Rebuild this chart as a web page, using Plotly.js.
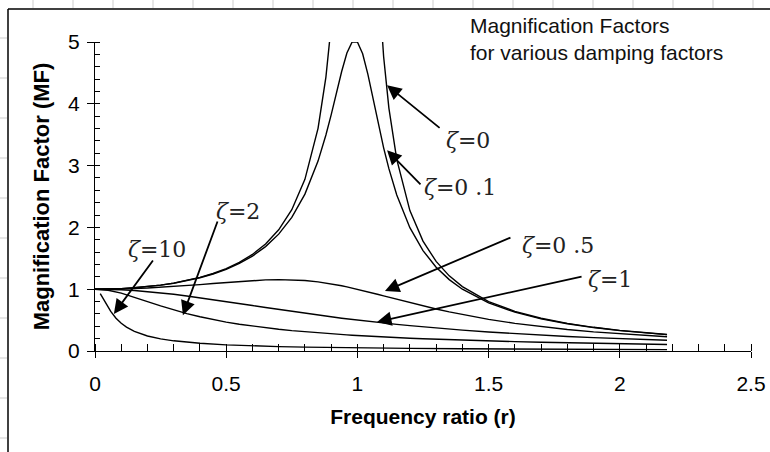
<!DOCTYPE html>
<html><head><meta charset="utf-8">
<script src="https://cdn.plot.ly/plotly-3.0.1.min.js"></script>
<style>html,body{margin:0;padding:0;background:#fff}#chart{width:770px;height:452px}</style>
</head><body><div id="chart"></div>
<script>
// Frequency ratio samples (shared by the first five curves)
const r = [0, 0.05, 0.1, 0.15, 0.2, 0.25, 0.3, 0.35, 0.4, 0.45, 0.5, 0.55, 0.6, 0.65, 0.7, 0.75, 0.8, 0.85, 0.88, 0.9, 0.92, 0.94, 0.96, 0.98, 1.0, 1.02, 1.04, 1.06, 1.08, 1.1, 1.12, 1.15, 1.2, 1.25, 1.3, 1.35, 1.4, 1.5, 1.6, 1.7, 1.8, 1.9, 2.0, 2.1, 2.18];
// Magnification factor
const mfZeta0 = [1, 1.0025, 1.0101, 1.023, 1.0417, 1.0667, 1.0989, 1.1396, 1.1905, 1.2539, 1.3333, 1.4337, 1.5625, 1.7316, 1.9608, 2.2857, 2.7778, 3.6036, 4.4326, 5.2632, 6.5104, 8.591, 12.755, 25.25, null, 24.75, 12.255, 8.091, 6.0096, 4.7619, 3.9308, 3.1008, 2.2727, 1.7778, 1.4493, 1.2158, 1.0417, 0.8, 0.641, 0.5291, 0.4464, 0.3831, 0.3333, 0.2933, 0.2665];
const mfZeta01 = [1, 1.0025, 1.0099, 1.0225, 1.0408, 1.0652, 1.0965, 1.136, 1.1851, 1.246, 1.3216, 1.4162, 1.5357, 1.6893, 1.8908, 2.1622, 2.5384, 3.0729, 3.4949, 3.8208, 4.1721, 4.5225, 4.8218, 5.001, 5.0, 4.8086, 4.4756, 4.075, 3.6675, 3.288, 2.9502, 2.5245, 1.9952, 1.6246, 1.3562, 1.1552, 1.0, 0.7779, 0.628, 0.5207, 0.4408, 0.3791, 0.3304, 0.2911, 0.2647];
const mfZeta05 = [1, 1.0013, 1.005, 1.0112, 1.0198, 1.0307, 1.0437, 1.0585, 1.0748, 1.0921, 1.1094, 1.1258, 1.1399, 1.1501, 1.1546, 1.1517, 1.1399, 1.1184, 1.1008, 1.0872, 1.0721, 1.0558, 1.0382, 1.0196, 1.0, 0.9796, 0.9586, 0.9371, 0.9151, 0.893, 0.8707, 0.8373, 0.7824, 0.7295, 0.6795, 0.6326, 0.5891, 0.5122, 0.4475, 0.3934, 0.348, 0.3098, 0.2774, 0.2497, 0.2304];
const mfZeta1 = [1, 0.9975, 0.9901, 0.978, 0.9615, 0.9412, 0.9174, 0.8909, 0.8621, 0.8316, 0.8, 0.7678, 0.7353, 0.703, 0.6711, 0.64, 0.6098, 0.5806, 0.5636, 0.5525, 0.5416, 0.5309, 0.5204, 0.5101, 0.5, 0.4901, 0.4804, 0.4709, 0.4616, 0.4525, 0.4436, 0.4306, 0.4098, 0.3902, 0.3717, 0.3543, 0.3378, 0.3077, 0.2809, 0.2571, 0.2358, 0.2169, 0.2, 0.1848, 0.1738];
const mfZeta2 = [1, 0.9829, 0.9365, 0.8719, 0.8002, 0.7295, 0.664, 0.6052, 0.5534, 0.5079, 0.4682, 0.4333, 0.4026, 0.3755, 0.3514, 0.3298, 0.3105, 0.2931, 0.2835, 0.2774, 0.2715, 0.2658, 0.2604, 0.2551, 0.25, 0.2451, 0.2403, 0.2358, 0.2313, 0.227, 0.2229, 0.2169, 0.2075, 0.1988, 0.1906, 0.1831, 0.176, 0.1632, 0.1518, 0.1417, 0.1326, 0.1245, 0.117, 0.1103, 0.1053];
// The heavily damped curve has its own samples (it starts just after r = 0)
const r10 = [0.02, 0.04, 0.06, 0.08, 0.1, 0.12, 0.15, 0.2, 0.25, 0.3, 0.4, 0.5, 0.6, 0.7, 0.8, 0.9, 1.0, 1.2, 1.4, 1.6, 1.8, 2.0, 2.18];
const mfZeta10 = [0.9288, 0.7816, 0.6411, 0.531, 0.4481, 0.3854, 0.3169, 0.2431, 0.1966, 0.1648, 0.1243, 0.0997, 0.0832, 0.0714, 0.0625, 0.0556, 0.05, 0.0417, 0.0357, 0.0312, 0.0277, 0.0249, 0.0229];

// Curve labels: text, arrow head (r, MF), arrow tail (r, MF), label centre (r, MF)
const labelText = ['<i>ζ</i>=0', '<i>ζ</i>=0 .1', '<i>ζ</i>=0 .5', '<i>ζ</i>=1', '<i>ζ</i>=2', '<i>ζ</i>=10'];
const headR = [1.113, 1.113, 1.105, 1.075, 0.335, 0.072];
const headMF = [4.30, 3.25, 0.97, 0.47, 0.58, 0.60];
const tailR = [1.319, 1.246, 1.589, 1.86, 0.469, 0.225];
const tailMF = [3.59, 2.67, 1.845, 1.21, 2.12, 1.49];
const textR = [1.42, 1.391, 1.764, 1.963, 0.545, 0.236];
const textMF = [3.41, 2.64, 1.70, 1.165, 2.25, 1.65];

const sans = 'Liberation Sans, Arial, sans-serif';
const serif = 'DejaVu Serif, Liberation Serif, serif';
const lineStyle = {color: '#000', width: 1.4};

const curves = [
  {name: 'ζ=0', x: r, y: mfZeta0},
  {name: 'ζ=0.1', x: r, y: mfZeta01},
  {name: 'ζ=0.5', x: r, y: mfZeta05},
  {name: 'ζ=1', x: r, y: mfZeta1},
  {name: 'ζ=2', x: r, y: mfZeta2},
  {name: 'ζ=10', x: r10, y: mfZeta10}
];
const traces = curves.map(c => ({
  type: 'scatter', mode: 'lines', name: c.name, x: c.x, y: c.y,
  line: lineStyle, connectgaps: false, showlegend: false, hoverinfo: 'x+y+name'
}));
// empty trace so the overlay axes (crossing major ticks) are drawn
traces.push({type: 'scatter', x: [null], y: [null], xaxis: 'x2', yaxis: 'y2', showlegend: false, hoverinfo: 'skip'});

const annotations = [];
labelText.forEach((t, i) => {
  annotations.push({
    x: headR[i], y: headMF[i], xref: 'x', yref: 'y',
    ax: tailR[i], ay: tailMF[i], axref: 'x', ayref: 'y',
    text: '', showarrow: true, arrowhead: 2, arrowsize: 1.6, arrowwidth: 1.8,
    arrowcolor: '#000', font: {size: 1}
  });
  annotations.push({
    x: textR[i], y: textMF[i], xref: 'x', yref: 'y', text: t, showarrow: false,
    xanchor: 'center', yanchor: 'middle',
    font: {family: serif, size: 22, color: '#222'}
  });
});

// Decorative page frame and faint sheet grid around the chart (pixel -> paper)
const W = 770, H = 452, L = 95, R = 19, T = 42, B = 101;
const pw = W - L - R, ph = H - T - B;
const px = v => (v - L) / pw;
const py = v => (H - B - v) / ph;
const shapes = [];
for (let gx = 33; gx < W; gx += 40) {
  shapes.push({type: 'line', xref: 'paper', yref: 'paper', x0: px(gx), x1: px(gx), y0: py(0), y1: py(8), line: {color: '#dedede', width: 1.5}});
}
for (let gy = 38; gy < H; gy += 40) {
  shapes.push({type: 'line', xref: 'paper', yref: 'paper', x0: px(0), x1: px(7), y0: py(gy), y1: py(gy), line: {color: '#dedede', width: 1.5}});
}
shapes.push({type: 'line', xref: 'paper', yref: 'paper', x0: px(8), x1: px(W), y0: py(9), y1: py(9), line: {color: '#000', width: 1.5}});
shapes.push({type: 'line', xref: 'paper', yref: 'paper', x0: px(8), x1: px(8), y0: py(9), y1: py(H), line: {color: '#000', width: 1.5}});

const tickFont = {family: sans, size: 21, color: '#000'};
const layout = {
  width: W, height: H,
  margin: {l: L, r: R, t: T, b: B, pad: 0},
  paper_bgcolor: '#fff', plot_bgcolor: '#fff',
  font: {family: sans, color: '#000'},
  title: {
    text: 'Magnification Factors<br>for various damping factors',
    x: 470 / W, xanchor: 'left', xref: 'container',
    y: 1 - 33 / H, yanchor: 'top', yref: 'container',
    font: {family: sans, size: 21, color: '#111'}
  },
  xaxis: {
    range: [0, 2.5], tick0: 0, dtick: 0.5, ticks: 'outside', ticklen: 6, tickwidth: 1, tickcolor: '#000',
    showline: true, linecolor: '#000', linewidth: 1, showgrid: false, zeroline: false,
    tickfont: tickFont, ticklabelstandoff: 8,
    minor: {tick0: 0, dtick: 0.1, ticks: 'inside', ticklen: 7, tickwidth: 1, tickcolor: '#000', showgrid: false},
    title: {text: '<b>Frequency ratio (r)</b>', font: {family: sans, size: 21, color: '#000'}, standoff: 15},
    fixedrange: true
  },
  yaxis: {
    range: [0, 5], tick0: 0, dtick: 1, ticks: 'outside', ticklen: 7, tickwidth: 1, tickcolor: '#000',
    showline: true, linecolor: '#000', linewidth: 1, showgrid: false, zeroline: false,
    tickfont: tickFont, ticklabelstandoff: 3,
    minor: {tick0: 0, dtick: 0.2, ticks: 'inside', ticklen: 5, tickwidth: 1, tickcolor: '#000', showgrid: false},
    title: {text: '<b>Magnification Factor (MF)</b>', font: {family: sans, size: 22, color: '#000'}, standoff: 12},
    fixedrange: true
  },
  xaxis2: {
    overlaying: 'x', anchor: 'y', range: [0, 2.5], tick0: 0, dtick: 0.5, ticks: 'inside', ticklen: 7,
    tickwidth: 1, tickcolor: '#000', showticklabels: false, showline: false, showgrid: false, zeroline: false, fixedrange: true
  },
  yaxis2: {
    overlaying: 'y', anchor: 'x', side: 'left', range: [0, 5], tick0: 0, dtick: 1, ticks: 'inside', ticklen: 5,
    tickwidth: 1, tickcolor: '#000', showticklabels: false, showline: false, showgrid: false, zeroline: false, fixedrange: true
  },
  annotations: annotations,
  shapes: shapes,
  showlegend: false
};
Plotly.newPlot('chart', traces, layout, {displayModeBar: false, staticPlot: true});
</script>
</body></html>
